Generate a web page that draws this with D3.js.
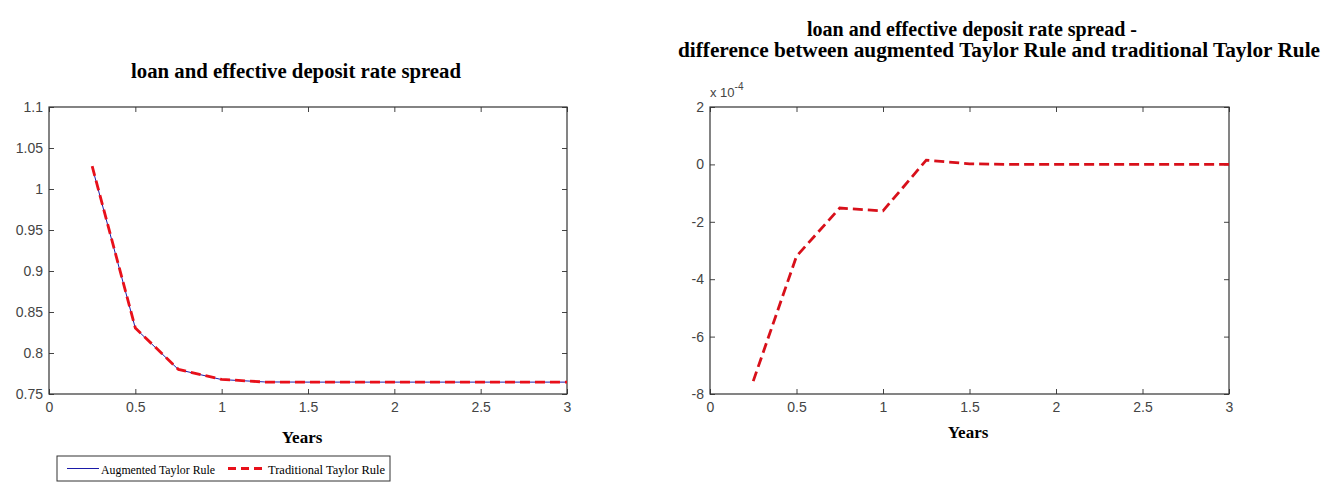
<!DOCTYPE html>
<html>
<head>
<meta charset="utf-8">
<script src="https://cdn.jsdelivr.net/npm/d3@7"></script>
<style>
  body { margin: 0; background: #fff; }
  svg { display: block; }
  .tick text { font-family: "Liberation Sans", Arial, sans-serif; font-size: 14px; fill: #444; }
  .tick line { stroke: #444; }
</style>
</head>
<body>
<script>
// quarterly horizon (years)
const years = [0.25, 0.5, 0.75, 1, 1.25, 1.5, 1.75, 2, 2.25, 2.5, 2.75, 3];

// loan and effective deposit rate spread
const augmented   = [1.0270, 0.8302, 0.7797, 0.7676, 0.7647, 0.7645, 0.7645, 0.7645, 0.7645, 0.7645, 0.7645, 0.7645];
const traditional = [1.0278, 0.8305, 0.7799, 0.7678, 0.7646, 0.7645, 0.7645, 0.7645, 0.7645, 0.7645, 0.7645, 0.7645];

// augmented minus traditional
const difference = [-7.55e-4, -3.2e-4, -1.52e-4, -1.62e-4, 0.15e-4, 0.02e-4, 0, 0, 0, 0, 0, 0];

const xTicks = [0, 0.5, 1, 1.5, 2, 2.5, 3];
const xTickLabels = ["0", "0.5", "1", "1.5", "2", "2.5", "3"];
const yTicksLeft = [0.75, 0.8, 0.85, 0.9, 0.95, 1, 1.05, 1.1];
const yTickLabelsLeft = ["0.75", "0.8", "0.85", "0.9", "0.95", "1", "1.05", "1.1"];
const yTicksRight = [-8e-4, -6e-4, -4e-4, -2e-4, 0, 2e-4];
const yTickLabelsRight = ["-8", "-6", "-4", "-2", "0", "2"];

const seriesNames = ["Augmented Taylor Rule", "Traditional Taylor Rule"];

const W = 1327, H = 504;
const svg = d3.select("body").append("svg")
    .attr("width", W)
    .attr("height", H);

const serif = "'Liberation Serif', 'Times New Roman', serif";

// draws one MATLAB style axes box with inward ticks on all sides
function makeAxes(left, top, w, h, yDomain, yTicks, yLabels) {
    const g = svg.append("g").attr("transform", `translate(${left},${top})`);
    const x = d3.scaleLinear().domain([0, 3]).range([0, w]);
    const y = d3.scaleLinear().domain(yDomain).range([h, 0]);

    g.append("g")
        .attr("transform", `translate(0,${h})`)
        .call(d3.axisBottom(x).tickValues(xTicks)
            .tickFormat((d, i) => xTickLabels[i])
            .tickSizeInner(-5).tickSizeOuter(0).tickPadding(8));
    g.append("g")
        .call(d3.axisTop(x).tickValues(xTicks).tickFormat("")
            .tickSizeInner(-5).tickSizeOuter(0));
    g.append("g")
        .call(d3.axisLeft(y).tickValues(yTicks)
            .tickFormat((d, i) => yLabels[i])
            .tickSizeInner(-5).tickSizeOuter(0).tickPadding(6));
    g.append("g")
        .attr("transform", `translate(${w},0)`)
        .call(d3.axisRight(y).tickValues(yTicks).tickFormat("")
            .tickSizeInner(-5).tickSizeOuter(0));
    g.selectAll(".domain").remove();

    g.append("rect")
        .attr("width", w).attr("height", h)
        .attr("fill", "none")
        .attr("stroke", "#333")
        .attr("stroke-width", 1.2);

    return {g, x, y};
}

// ---- left panel ----
const L = makeAxes(49, 107, 518, 287, [0.75, 1.1], yTicksLeft, yTickLabelsLeft);

const lineL = d3.line()
    .x((d, i) => L.x(years[i]))
    .y(d => L.y(d));

L.g.append("path")
    .datum(augmented)
    .attr("fill", "none")
    .attr("stroke", "#1a1aa8")
    .attr("stroke-width", 1)
    .attr("d", lineL);

L.g.append("path")
    .datum(traditional)
    .attr("fill", "none")
    .attr("stroke", "#e8101a")
    .attr("stroke-width", 2.8)
    .attr("stroke-dasharray", "10,5")
    .attr("d", lineL);

svg.append("text")
    .attr("x", 296).attr("y", 78)
    .attr("text-anchor", "middle")
    .attr("font-family", serif).attr("font-weight", "bold").attr("font-size", 20)
    .attr("textLength", 330).attr("lengthAdjust", "spacingAndGlyphs")
    .text("loan and effective deposit rate spread");

svg.append("text")
    .attr("x", 302).attr("y", 443)
    .attr("text-anchor", "middle")
    .attr("font-family", serif).attr("font-weight", "bold").attr("font-size", 17)
    .text("Years");

// legend
const leg = svg.append("g").attr("transform", "translate(57,456)");
leg.append("rect")
    .attr("width", 333).attr("height", 25)
    .attr("fill", "#fff").attr("stroke", "#333");
leg.append("line")
    .attr("x1", 10).attr("x2", 42).attr("y1", 12.5).attr("y2", 12.5)
    .attr("stroke", "#1a1aa8").attr("stroke-width", 1);
leg.append("text")
    .attr("x", 44).attr("y", 17.5)
    .attr("font-family", serif).attr("font-size", 13.5)
    .attr("textLength", 114).attr("lengthAdjust", "spacingAndGlyphs")
    .text(seriesNames[0]);
leg.append("line")
    .attr("x1", 171).attr("x2", 205).attr("y1", 12.5).attr("y2", 12.5)
    .attr("stroke", "#e8101a").attr("stroke-width", 2.8)
    .attr("stroke-dasharray", "8,5");
leg.append("text")
    .attr("x", 211).attr("y", 17.5)
    .attr("font-family", serif).attr("font-size", 13.5)
    .attr("textLength", 117).attr("lengthAdjust", "spacingAndGlyphs")
    .text(seriesNames[1]);

// ---- right panel ----
const R = makeAxes(710, 107, 519, 287, [-8e-4, 2e-4], yTicksRight, yTickLabelsRight);

R.g.append("path")
    .datum(difference)
    .attr("fill", "none")
    .attr("stroke", "#d8101a")
    .attr("stroke-width", 2.8)
    .attr("stroke-dasharray", "10,5")
    .attr("d", d3.line()
        .x((d, i) => R.x(years[i]))
        .y(d => R.y(d)));

// exponent label
const expo = svg.append("text")
    .attr("x", 710).attr("y", 97)
    .attr("font-family", "'Liberation Sans', Arial, sans-serif")
    .attr("font-size", 13).attr("fill", "#444");
expo.append("tspan").text("x 10");
expo.append("tspan").attr("dy", -7).attr("font-size", 10).text("-4");

const titleR = svg.append("text")
    .attr("text-anchor", "middle")
    .attr("font-family", serif).attr("font-weight", "bold").attr("font-size", 20);
titleR.append("tspan").attr("x", 972).attr("y", 36)
    .attr("textLength", 330).attr("lengthAdjust", "spacingAndGlyphs")
    .text("loan and effective deposit rate spread -");
titleR.append("tspan").attr("x", 999).attr("y", 57)
    .attr("textLength", 642).attr("lengthAdjust", "spacingAndGlyphs")
    .text("difference between augmented Taylor Rule and traditional Taylor Rule");

svg.append("text")
    .attr("x", 968).attr("y", 438)
    .attr("text-anchor", "middle")
    .attr("font-family", serif).attr("font-weight", "bold").attr("font-size", 17)
    .text("Years");
</script>
</body>
</html>
